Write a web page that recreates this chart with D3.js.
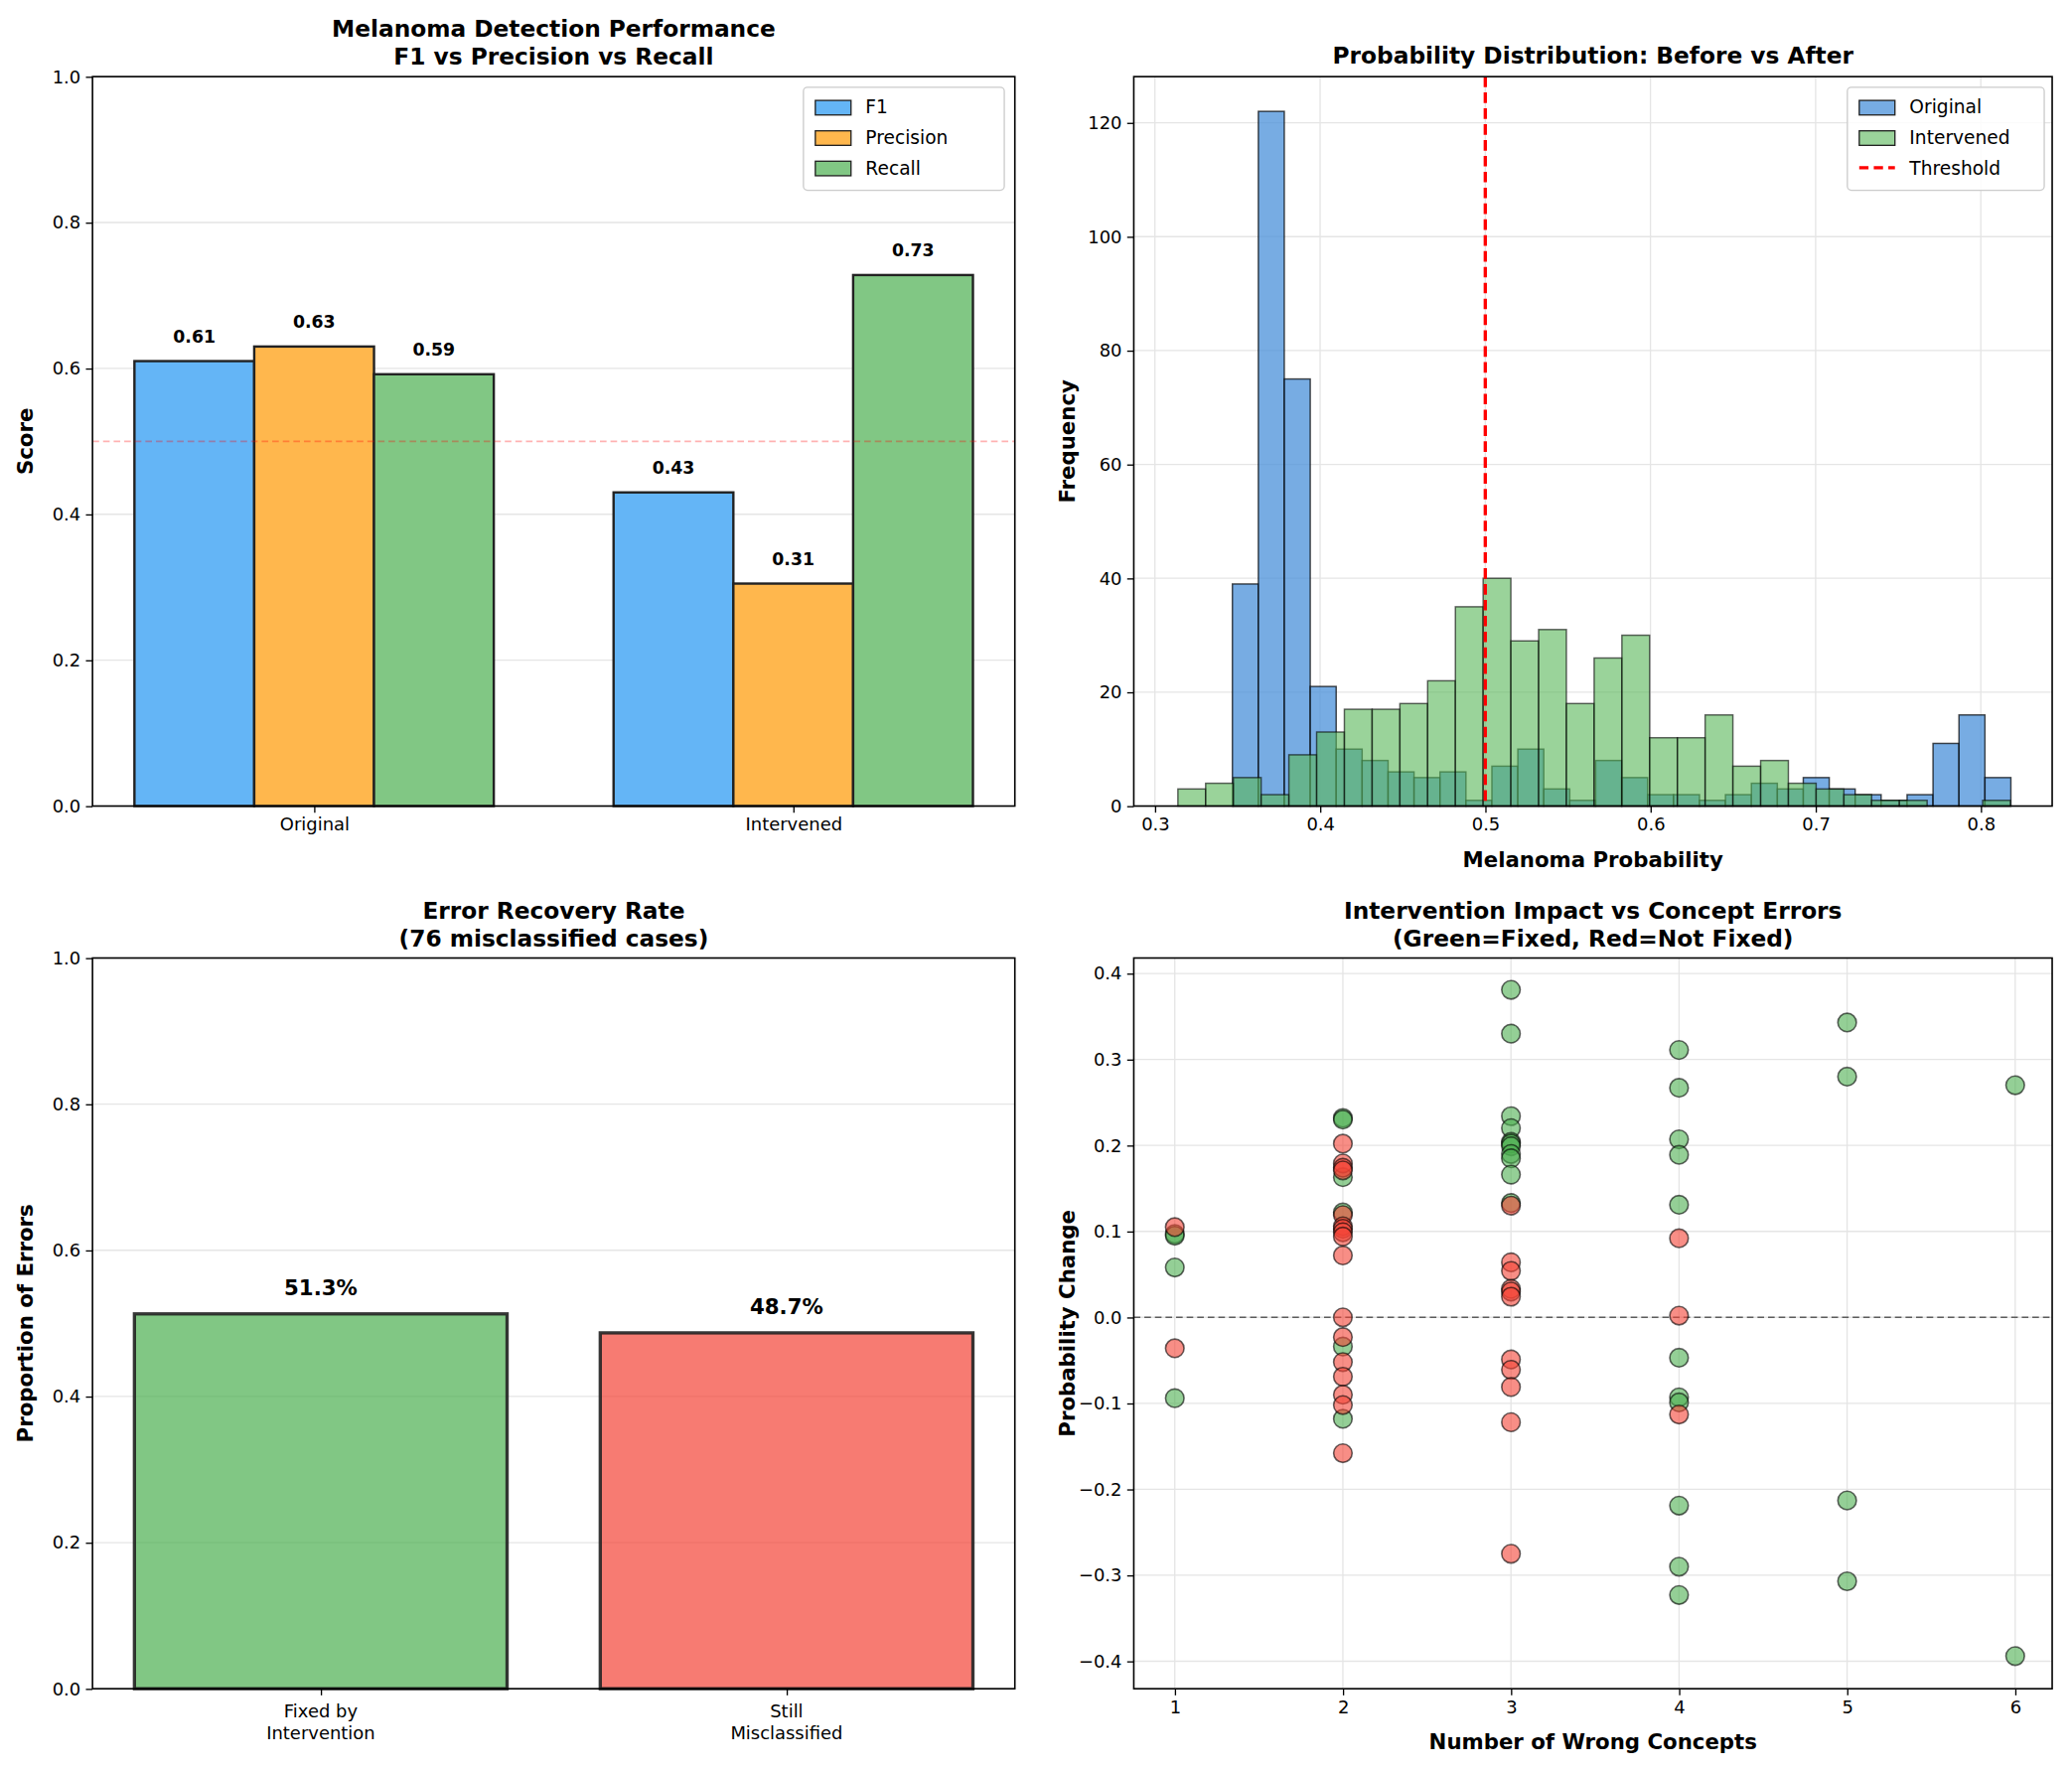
<!DOCTYPE html>
<html><head><meta charset="utf-8">
<script src="https://cdn.jsdelivr.net/npm/d3@7"></script>
<style>body{margin:0;background:#fff}text{font-family:"DejaVu Sans",sans-serif}</style>
</head><body><svg id="c" width="2086" height="1782" viewBox="0 0 1568 1339.5"></svg>
<script>
// ---- data ----
const groups = ["Original","Intervened"];
const metrics = ["F1","Precision","Recall"];
const f1Vals = [0.61,0.43];
const precVals = [0.63,0.305];
const recVals = [0.592,0.728];
const barLabels = [["0.61","0.43"],["0.63","0.31"],["0.59","0.73"]];

const origBinStart = 0.3469, origBinWidth = 0.01571;
const origCounts = [39,122,75,21,10,8,6,5,6,1,7,10,3,1,8,5,2,2,1,2,4,3,5,3,2,1,2,11,16,5];
const intBinStart = 0.3139, intBinWidth = 0.01680;
const intCounts = [3,4,5,2,9,13,17,17,18,22,35,40,29,31,18,26,30,12,12,16,7,8,4,3,2,1,1,0,0,1];

const recCats = ["Fixed by\nIntervention","Still\nMisclassified"];
const recVals2 = [0.513,0.487];
const recLabels = ["51.3%","48.7%"];

const fixedX = [1,1,1,1, 2,2,2,2,2,2, 3,3,3,3,3,3,3,3,3,3,3, 4,4,4,4,4,4,4,4,4,4,4, 5,5,5,5, 6,6];
const fixedY = [0.097,0.095,0.058,-0.094, 0.232,0.230,0.163,-0.034,-0.118,0.122, 0.381,0.330,0.234,0.220,0.204,0.202,0.199,0.190,0.185,0.166,0.133, 0.311,0.267,0.207,0.189,0.131,-0.047,-0.093,-0.099,-0.219,-0.290,-0.323, 0.343,0.280,-0.213,-0.307, 0.270,-0.394];
const notFixedX = [1,1, 2,2,2,2,2,2,2,2,2,2,2,2,2,2,2,2,2, 3,3,3,3,3,3,3,3,3,3,3, 4,4,4];
const notFixedY = [0.105,-0.036, 0.202,0.179,0.174,0.171,0.119,0.106,0.103,0.099,0.094,0.072,0.0,-0.023,-0.052,-0.069,-0.090,-0.102,-0.158, 0.130,0.064,0.054,0.033,0.030,0.024,-0.049,-0.061,-0.081,-0.122,-0.275, 0.092,0.002,-0.113];

// ---- drawing ----
const svg = d3.select("#c");
const P = [{x:70,y:58,w:698,h:552},{x:858,y:58,w:695,h:552},{x:70,y:725,w:698,h:553},{x:858,y:725,w:695,h:553}];
function panel(p){ return svg.append("g").attr("transform",`translate(${p.x},${p.y})`); }
function grid(g,p,y,ticks,x,xticks){
  if(y) g.append("g").selectAll("line").data(ticks).join("line").attr("x1",0).attr("x2",p.w).attr("y1",d=>y(d)).attr("y2",d=>y(d)).attr("stroke","#e5e5e5").attr("stroke-width",1);
  if(x) g.append("g").selectAll("line").data(xticks).join("line").attr("y1",0).attr("y2",p.h).attr("x1",d=>x(d)).attr("x2",d=>x(d)).attr("stroke","#e5e5e5").attr("stroke-width",1);
}
function axes(g,p,x,y,xt,yt,xfmt,yfmt){
  const ay=g.append("g").call(d3.axisLeft(y).tickValues(yt).tickFormat(yfmt).tickSize(5).tickPadding(4));
  const ax=g.append("g").attr("transform",`translate(0,${p.h})`).call(d3.axisBottom(x).tickValues(xt).tickFormat(xfmt).tickSize(5).tickPadding(4));
  [ax,ay].forEach(a=>{a.select(".domain").remove();a.selectAll("line").attr("stroke","#000").attr("stroke-width",1);a.selectAll("text").attr("font-size",13.5).attr("fill","#000");});
  g.append("rect").attr("width",p.w).attr("height",p.h).attr("fill","none").attr("stroke","#000").attr("stroke-width",1.2);
}
function title(g,p,lines){
  lines.forEach((t,i)=>g.append("text").attr("x",p.w/2).attr("y",(lines.length===1?-10:-30) + i*21).attr("text-anchor","middle").attr("font-size",17.5).attr("font-weight","bold").text(t));
}
function ylabel(g,p,t){ g.append("text").attr("transform",`translate(-45,${p.h/2}) rotate(-90)`).attr("text-anchor","middle").attr("font-size",16).attr("font-weight","bold").text(t); }
function xlabel(g,p,t){ g.append("text").attr("x",p.w/2).attr("y",p.h+46).attr("text-anchor","middle").attr("font-size",16).attr("font-weight","bold").text(t); }
function legend(g,x,y,w,items){
  const lg=g.append("g").attr("transform",`translate(${x},${y})`);
  lg.append("rect").attr("width",w).attr("height",items.length*23+9).attr("rx",3).attr("fill","#fff").attr("fill-opacity",0.85).attr("stroke","#ccc");
  items.forEach((it,i)=>{
    const yy=7+i*23;
    if(it.line) lg.append("line").attr("x1",9).attr("x2",36).attr("y1",yy+8).attr("y2",yy+8).attr("stroke",it.line).attr("stroke-width",2.5).attr("stroke-dasharray","7,4");
    else lg.append("rect").attr("x",9).attr("y",yy+3).attr("width",27).attr("height",11).attr("fill",it.fill).attr("fill-opacity",it.op||1).attr("stroke","#222").attr("stroke-width",1);
    lg.append("text").attr("x",47).attr("y",yy+13).attr("font-size",14).text(it.t);
  });
}

// Panel 1
{
  const p=P[0], g=panel(p);
  const x=d3.scaleLinear().domain([-0.4625,1.4625]).range([0,p.w]);
  const y=d3.scaleLinear().domain([0,1]).range([p.h,0]);
  const yt=d3.range(0,1.01,0.2);
  grid(g,p,y,yt);
  const cols=["#64B5F6","#FFB74D","#81C784"], vals=[f1Vals,precVals,recVals], bw=0.25;
  vals.forEach((vs,m)=>vs.forEach((v,i)=>{
    const cx=i+(m-1)*bw;
    g.append("rect").attr("x",x(cx-bw/2)).attr("width",x(bw)-x(0)).attr("y",y(v)).attr("height",y(0)-y(v)).attr("fill",cols[m]).attr("stroke","#222").attr("stroke-width",1.8);
    g.append("text").attr("x",x(cx)).attr("y",y(v)-14).attr("text-anchor","middle").attr("font-size",13).attr("font-weight","bold").text(barLabels[m][i]);
  }));
  g.append("line").attr("x1",0).attr("x2",p.w).attr("y1",y(0.5)).attr("y2",y(0.5)).attr("stroke","red").attr("stroke-opacity",0.3).attr("stroke-dasharray","5,3").attr("stroke-width",1.3);
  axes(g,p,x,y,[0,1],yt,i=>groups[i],d3.format(".1f"));
  title(g,p,["Melanoma Detection Performance","F1 vs Precision vs Recall"]);
  ylabel(g,p,"Score");
  legend(g,p.w-160,8,152,metrics.map((t,i)=>({t,fill:cols[i]})));
}
// Panel 2
{
  const p=P[1], g=panel(p);
  const x=d3.scaleLinear().domain([0.2872,0.8432]).range([0,p.w]);
  const y=d3.scaleLinear().domain([0,128.1]).range([p.h,0]);
  const yt=d3.range(0,121,20), xt=[0.3,0.4,0.5,0.6,0.7,0.8];
  grid(g,p,y,yt,x,xt);
  origCounts.forEach((c,i)=>{ const a=origBinStart+i*origBinWidth; if(c>0) g.append("rect").attr("x",x(a)).attr("width",x(a+origBinWidth)-x(a)).attr("y",y(c)).attr("height",y(0)-y(c)).attr("fill","#4a90d9").attr("fill-opacity",0.75).attr("stroke","#000").attr("stroke-opacity",0.7).attr("stroke-width",1.1);});
  intCounts.forEach((c,i)=>{ const a=intBinStart+i*intBinWidth; if(c>0) g.append("rect").attr("x",x(a)).attr("width",x(a+intBinWidth)-x(a)).attr("y",y(c)).attr("height",y(0)-y(c)).attr("fill","#5cb85c").attr("fill-opacity",0.62).attr("stroke","#000").attr("stroke-opacity",0.6).attr("stroke-width",1.1);});
  g.append("line").attr("x1",x(0.5)).attr("x2",x(0.5)).attr("y1",0).attr("y2",p.h).attr("stroke","red").attr("stroke-width",2.5).attr("stroke-dasharray","8,4");
  axes(g,p,x,y,xt,yt,d3.format(".1f"),d3.format("d"));
  title(g,p,["Probability Distribution: Before vs After"]);
  ylabel(g,p,"Frequency"); xlabel(g,p,"Melanoma Probability");
  legend(g,p.w-155,8,149,[{t:"Original",fill:"#4a90d9",op:0.75},{t:"Intervened",fill:"#5cb85c",op:0.62},{t:"Threshold",line:"red"}]);
}
// Panel 3
{
  const p=P[2], g=panel(p);
  const x=d3.scaleLinear().domain([-0.49,1.49]).range([0,p.w]);
  const y=d3.scaleLinear().domain([0,1]).range([p.h,0]);
  const yt=d3.range(0,1.01,0.2);
  grid(g,p,y,yt);
  const cols=["#4CAF50","#F44336"];
  recVals2.forEach((v,i)=>{
    g.append("rect").attr("x",x(i-0.4)).attr("width",x(0.8)-x(0)).attr("y",y(v)).attr("height",y(0)-y(v)).attr("fill",cols[i]).attr("fill-opacity",0.7).attr("stroke","#222").attr("stroke-opacity",0.9).attr("stroke-width",2.5);
    g.append("text").attr("x",x(i)).attr("y",y(v)-14).attr("text-anchor","middle").attr("font-size",16).attr("font-weight","bold").text(recLabels[i]);
  });
  axes(g,p,x,y,[0,1],yt,()=>"",d3.format(".1f"));
  recCats.forEach((c,i)=>c.split("\n").forEach((l,j)=>g.append("text").attr("x",x(i)).attr("y",p.h+22+j*16).attr("text-anchor","middle").attr("font-size",13.5).text(l)));
  title(g,p,["Error Recovery Rate","(76 misclassified cases)"]);
  ylabel(g,p,"Proportion of Errors");
}
// Panel 4
{
  const p=P[3], g=panel(p);
  const x=d3.scaleLinear().domain([0.756,6.22]).range([0,p.w]);
  const y=d3.scaleLinear().domain([-0.432,0.418]).range([p.h,0]);
  const yt=[-0.4,-0.3,-0.2,-0.1,0,0.1,0.2,0.3,0.4], xt=[1,2,3,4,5,6];
  grid(g,p,y,yt,x,xt);
  g.append("line").attr("x1",0).attr("x2",p.w).attr("y1",y(0)).attr("y2",y(0)).attr("stroke","#000").attr("stroke-opacity",0.6).attr("stroke-dasharray","5,3").attr("stroke-width",1.2);
  const dot=(xs,ys,c)=>g.append("g").selectAll("circle").data(xs.map((d,i)=>[d,ys[i]])).join("circle").attr("cx",d=>x(d[0])).attr("cy",d=>y(d[1])).attr("r",7).attr("fill",c).attr("fill-opacity",0.6).attr("stroke","#000").attr("stroke-opacity",0.6).attr("stroke-width",1.2);
  dot(fixedX,fixedY,"#4CAF50");
  dot(notFixedX,notFixedY,"#F44336");
  axes(g,p,x,y,xt,yt,d3.format("d"),d3.format(".1f"));
  title(g,p,["Intervention Impact vs Concept Errors","(Green=Fixed, Red=Not Fixed)"]);
  ylabel(g,p,"Probability Change"); xlabel(g,p,"Number of Wrong Concepts");
}
</script></body></html>
